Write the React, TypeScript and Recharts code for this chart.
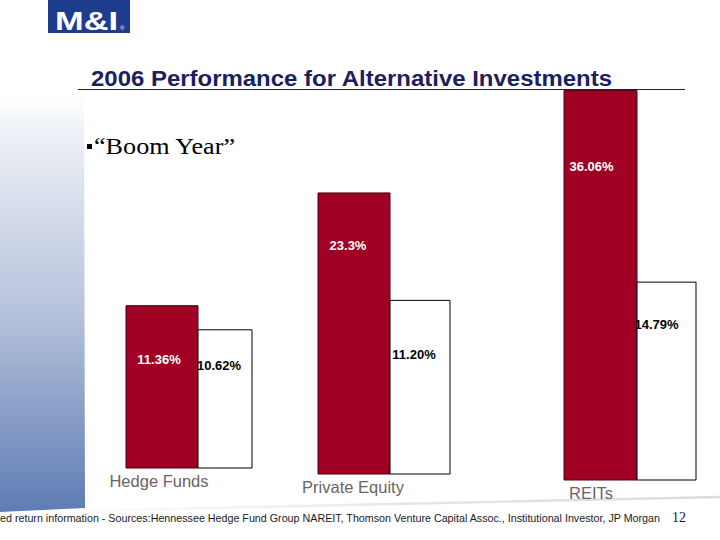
import { Bar, BarChart, LabelList, XAxis, YAxis } from "recharts";

const categories = ["Hedge Funds", "Private Equity", "REITs"];
const returns2006 = [11.36, 23.3, 36.06];
const comparison = [10.62, 11.2, 14.79];
const returnLabels = ["11.36%", "23.3%", "36.06%"];
const comparisonLabels = ["10.62%", "11.20%", "14.79%"];

// each category sits on the slide as its own little chart
const panels = [
  { left: 126, plotH: 380, redW: 72, whiteW: 54, redMax: 26.6, whiteMax: 29.2, redDy: 54, whiteDy: 36, redDx: -3, whiteDx: -6, tickDx: -30 },
  { left: 318, plotH: 386, redW: 72, whiteW: 60, redMax: 32.0, whiteMax: 24.9, redDy: 53, whiteDy: 54, redDx: -6, whiteDx: -6, tickDx: -31 },
  { left: 564, plotH: 392, redW: 73, whiteW: 59, redMax: 36.3, whiteMax: 29.3, redDy: 76, whiteDy: 42, redDx: -9, whiteDx: -10, tickDx: -39 },
];

const FONT = "'Liberation Sans', Arial, sans-serif";
const SERIF = "'Liberation Serif', 'Times New Roman', serif";
const RED = "#a10025";
const SIDE = 50; // room either side for the category text

function barLabel(color: string, dx: number, dy: number) {
  return (props: any) => {
    const { x, y, width, value } = props;
    return (
      <text
        x={Number(x) + Number(width) / 2 + dx}
        y={Number(y) + dy}
        textAnchor="middle"
        dominantBaseline="central"
        fill={color}
        fontFamily={FONT}
        fontSize={13}
        fontWeight="bold"
      >
        {value}
      </text>
    );
  };
}

function CategoryTick(props: any) {
  const { x, y, payload, dx } = props;
  return (
    <text
      x={x + dx}
      y={y + 13}
      textAnchor="middle"
      dominantBaseline="central"
      fill="#6b6464"
      fontFamily={FONT}
      fontSize={16.5}
    >
      {payload.value}
    </text>
  );
}

function Panel({ i }: { i: number }) {
  const p = panels[i];
  const row = [
    {
      name: categories[i],
      value: returns2006[i],
      compare: comparison[i],
      valueLabel: returnLabels[i],
      compareLabel: comparisonLabels[i],
    },
  ];
  return (
    <div style={{ position: "absolute", left: p.left - SIDE - 1, top: 88 }}>
      <BarChart
        width={SIDE * 2 + p.redW + p.whiteW + 2}
        height={p.plotH + 40}
        data={row}
        margin={{ top: 0, right: SIDE, bottom: 0, left: SIDE }}
        barCategoryGap={0}
        barGap={0}
      >
        <XAxis
          dataKey="name"
          axisLine={false}
          tickLine={false}
          tickSize={0}
          tickMargin={0}
          height={40}
          interval={0}
          tick={<CategoryTick dx={p.tickDx} />}
        />
        <YAxis yAxisId="red" hide domain={[0, p.redMax]} />
        <YAxis yAxisId="white" hide domain={[0, p.whiteMax]} />
        <Bar yAxisId="red" dataKey="value" barSize={p.redW} fill={RED} stroke="#4a0010" strokeWidth={1} isAnimationActive={false}>
          <LabelList dataKey="valueLabel" content={barLabel("#ffffff", p.redDx, p.redDy)} />
        </Bar>
        <Bar yAxisId="white" dataKey="compare" barSize={p.whiteW} fill="#ffffff" stroke="#000000" strokeWidth={1} isAnimationActive={false}>
          <LabelList dataKey="compareLabel" content={barLabel("#000000", p.whiteDx, p.whiteDy)} />
        </Bar>
      </BarChart>
    </div>
  );
}

export default function App() {
  return (
    <div style={{ position: "absolute", left: 0, top: 0, width: 720, height: 540, overflow: "hidden", background: "#ffffff" }}>
      <svg width={720} height={540} style={{ position: "absolute", left: 0, top: 0 }}>
        <defs>
          <linearGradient id="strip" x1="0" y1="0" x2="0" y2="1">
            <stop offset="0%" stopColor="#ffffff" />
            <stop offset="8%" stopColor="#eef1f7" />
            <stop offset="50%" stopColor="#b9c5dd" />
            <stop offset="100%" stopColor="#5e7cb5" />
          </linearGradient>
          <linearGradient id="swoosh" x1="0" y1="0" x2="1" y2="0">
            <stop offset="0%" stopColor="#e6e6e6" stopOpacity={0.2} />
            <stop offset="50%" stopColor="#d6d6d6" />
            <stop offset="100%" stopColor="#c4c4c4" />
          </linearGradient>
        </defs>
        <path d="M0 96 L84 96 L85 508 L0 512 Z" fill="url(#strip)" />
        <path d="M70 511 Q 400 503 720 497" fill="none" stroke="url(#swoosh)" strokeWidth={2.5} opacity={0.6} />

        <rect x={48} y={0} width={82} height={33} fill="#1e3c8c" />
        <text x={55} y={30} fill="#ffffff" fontFamily={FONT} fontWeight="bold" fontSize={25} textLength={63} lengthAdjust="spacingAndGlyphs">
          M&amp;I
        </text>
        <text x={120} y={30} fill="#ffffff" fontFamily={FONT} fontSize={6}>
          ®
        </text>

        <text x={91} y={86} fill="#1c205e" fontFamily={FONT} fontWeight="bold" fontSize={22.5} textLength={521} lengthAdjust="spacingAndGlyphs">
          2006 Performance for Alternative Investments
        </text>
        <line x1={78} y1={89.5} x2={685} y2={89.5} stroke="#222222" strokeWidth={1} />

        <rect x={87} y={144} width={5} height={5} fill="#000000" />
        <text x={94} y={154} fill="#000000" fontFamily={SERIF} fontSize={23} textLength={141} lengthAdjust="spacingAndGlyphs">
          “Boom Year”
        </text>

        <text x={0} y={522} fill="#1a1a1a" fontFamily={FONT} fontSize={10.5} textLength={660} lengthAdjust="spacingAndGlyphs">
          ed return information - Sources:Hennessee Hedge Fund Group NAREIT, Thomson Venture Capital Assoc., Institutional Investor, JP Morgan
        </text>
        <text x={672} y={522} fill="#1a1a1a" fontFamily={SERIF} fontSize={14}>
          12
        </text>
      </svg>
      {panels.map((_, i) => (
        <Panel key={categories[i]} i={i} />
      ))}
    </div>
  );
}
